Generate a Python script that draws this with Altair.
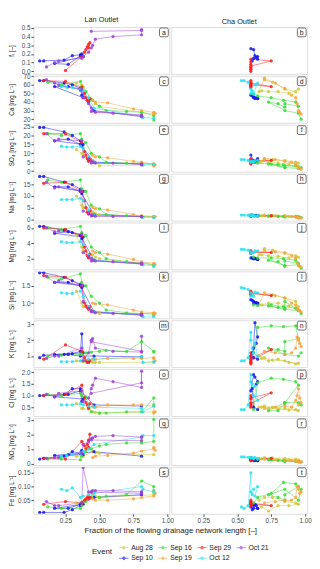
import altair as alt
import pandas as pd

# ---------------- categories / styling lists ----------------
LEGEND_ORDER = ["Aug 28", "Sep 16", "Sep 29", "Oct 21", "Sep 10", "Sep 19", "Oct 12"]
COLORS = ["#CDC935", "#33DD33", "#FF1A1A", "#9E3FD6", "#1515EE", "#F9A23C", "#22E2F0"]

VARS = ["fl", "Ca", "SO4", "Na", "Mg", "Si", "K", "Cl", "NO3", "Fe"]
YTITLES = ["fₗ [–]", "Ca [mg L⁻¹]", "SO₄ [mg L⁻¹]", "Na [mg L⁻¹]", "Mg [mg L⁻¹]",
           "Si [mg L⁻¹]", "K [mg L⁻¹]", "Cl [mg L⁻¹]", "NO₃ [mg L⁻¹]", "Fe [mg L⁻¹]"]
YDOMAINS = [[-0.03, 0.51], [15.8, 70.4], [-0.3, 26], [-0.6, 19.7], [0.6, 6.7],
            [0.56, 1.92], [0.3, 3.25], [0.12, 2.14], [-0.1, 3.1], [0.0, 0.172]]
YTICKS = [[0.0, 0.1, 0.2, 0.3, 0.4, 0.5], [20, 30, 40, 50, 60, 70], [0, 5, 10, 15, 20, 25],
          [0, 5, 10, 15], [2, 4, 6], [1.0, 1.5], [1, 2, 3], [0.5, 1.0, 1.5, 2.0],
          [0, 1, 2, 3], [0.05, 0.10, 0.15]]
YFORMATS = [".1f", "d", "d", "d", "d", ".1f", "d", ".1f", "d", ".2f"]
XTICKS = [0.25, 0.50, 0.75, 1.00]
XTITLE = "Fraction of the flowing drainage network length [–]"
LETTERS = list("abcdefghijklmnopqrst")
SITES = ["Lan Outlet", "Cha Outlet"]

# ---------------- Lan Outlet data (time order per event) ----------------
lan_x = {
    "Aug 28": [0.33, 0.37, 0.38, 0.45, 0.47, 0.50, 0.90],
    "Sep 10": [0.06, 0.09, 0.24, 0.30, 0.36, 0.37, 0.38, 0.17, 0.27, 0.36, 0.46, 0.81],
    "Sep 16": [0.12, 0.22, 0.36, 0.37, 0.40, 0.44, 0.50, 0.55, 0.70, 0.81, 0.90, 0.90],
    "Sep 19": [0.45, 0.47, 0.56, 0.75, 0.81, 0.90, 0.90, 0.91],
    "Sep 29": [0.09, 0.25, 0.37, 0.39, 0.40, 0.41, 0.42, 0.43, 0.42],
    "Oct 12": [0.22, 0.26, 0.30, 0.36, 0.38, 0.42, 0.46, 0.81, 0.82, 0.90],
    "Oct 21": [0.11, 0.17, 0.20, 0.37, 0.38, 0.42, 0.44, 0.45, 0.47, 0.60, 0.81, 0.81, 0.81, 0.44],
}
lan_fl = {
    "Sep 10": [0.12, 0.12, 0.13, 0.18, 0.19, 0.20, 0.17, 0.09, 0.08, 0.18, None, None],
    "Sep 29": [None, 0.01, 0.17, 0.22, 0.25, 0.28, 0.31, 0.33, 0.27],
    "Oct 21": [0.05, 0.10, 0.12, 0.15, 0.17, 0.22, 0.27, 0.30, 0.37, 0.40, 0.42, 0.48, 0.47, 0.46],
}
lan_ca = {
    "Aug 28": [62, 60, 58, 42, 38, 35, 26],
    "Sep 10": [65, 65, 62, 60, 56, 48, 45, 58, 58, 54, 30, 23],
    "Sep 16": [63, 60, 64, 58, 52, 43, 35, 30, 29, 28, 24, 19],
    "Sep 19": [42, 40, 39, 32, 30, 28, 26, 27],
    "Sep 29": [65, 64, 57, 50, 45, 42, 40, 44, 41],
    "Oct 12": [58, 57, 57, 55, 53, 45, 33, 23, 22, 21],
    "Oct 21": [66, 62, 60, 55, 45, 38, 33, 30, 28, 27, 24, 23, 25, 29],
}
lan_so4 = {
    "Aug 28": [12, 10, 9, 6, 5, 3, 3.5],
    "Sep 10": [24.5, 24.5, 22, 20, 17, 14, 15, 17, 18, 15, 5, 4],
    "Sep 16": [21, 20, 21, 18, 16, 10, 8, 5, 4.5, 4.5, 4, 3.5],
    "Sep 19": [9, 8, 7.5, 5.5, 5, 4, 3, 3.5],
    "Sep 29": [21, 21, 16, 11, 9, 7, 6, 6.5, 5.5],
    "Oct 12": [14, 13.5, 13.5, 14, 13, 8, 5, 4, 3.5, 4],
    "Oct 21": [21, 17, 18, 17, 8, 7, 5.5, 5, 4.5, 4.5, 4, 3.5, 4, 4.5],
}
lan_na = {
    "Aug 28": [10, 6, 5, 3, 2.5, 2, 1],
    "Sep 10": [18.5, 18.5, 16, 15, 13, 11, 12, 14, 14, 12, 2, 1.2],
    "Sep 16": [17, 16, 17, 13, 12, 6, 4.5, 2, 1.5, 1.2, 1, 0.8],
    "Sep 19": [5, 4.5, 4, 2, 1.5, 1.2, 1.0, 1.1],
    "Sep 29": [15.5, 16, 12, 8, 5, 3, 2.5, 3.5, 2.2],
    "Oct 12": [8.5, 8.5, 8.5, 9, 8, 4, 2, 1, 0.8, 0.7],
    "Oct 21": [16, 13.5, 14, 12, 3.5, 2.5, 2, 1.5, 1.3, 1.2, 1.2, 1.0, 1.1, 1.4],
}
lan_mg = {
    "Aug 28": [5.0, 3.5, 3.0, 2.5, 2.2, 2.0, 1.2],
    "Sep 10": [6.2, 6.2, 5.7, 5.4, 5.0, 4.6, 4.8, 5.3, 5.5, 5.0, 1.8, 1.3],
    "Sep 16": [6.0, 5.8, 6.2, 5.4, 5.0, 3.5, 2.8, 2.0, 1.6, 1.5, 1.2, 1.0],
    "Sep 19": [3.0, 2.8, 2.6, 1.9, 1.6, 1.4, 1.2, 1.3],
    "Sep 29": [6.0, 5.8, 5.0, 3.5, 3.0, 2.4, 2.2, 2.6, 2.1],
    "Oct 12": [4.2, 4.1, 4.1, 4.2, 3.8, 2.5, 1.8, 1.3, 1.2, 1.1],
    "Oct 21": [6.0, 5.5, 5.6, 5.2, 2.8, 2.3, 2.0, 1.8, 1.7, 1.6, 1.4, 1.3, 1.35, 1.7],
}
lan_si = {
    "Aug 28": [1.35, 1.0, 0.9, 0.8, 0.75, 0.7, 0.7],
    "Sep 10": [1.88, 1.88, 1.75, 1.65, 1.55, 1.45, 1.5, 1.6, 1.6, 1.5, 0.75, 0.65],
    "Sep 16": [1.75, 1.7, 1.85, 1.6, 1.5, 1.2, 1.0, 0.8, 0.72, 0.7, 0.68, 0.65],
    "Sep 19": [1.0, 0.98, 0.95, 0.8, 0.75, 0.72, 0.68, 0.7],
    "Sep 29": [1.8, 1.75, 1.5, 1.0, 0.92, 0.88, 0.85, 0.9, 0.82],
    "Oct 12": [1.3, 1.28, 1.28, 1.35, 1.2, 0.9, 0.75, 0.65, 0.6, 0.6],
    "Oct 21": [1.78, 1.6, 1.65, 1.5, 1.05, 0.85, 0.78, 0.75, 0.72, 0.7, 0.68, 0.65, 0.66, 0.75],
}
lan_k = {
    "Aug 28": [0.7, 0.7, 0.65, 0.6, 0.6, 0.6, 0.6],
    "Sep 10": [0.9, 1.05, 1.1, 1.15, 1.3, 2.4, 1.2, 1.1, 1.1, 1.0, 1.0, 0.95],
    "Sep 16": [1.0, 1.05, 1.1, 1.15, 1.2, 1.25, 1.3, 1.35, 1.3, 1.9, 1.3, 1.25],
    "Sep 19": [0.8, 0.8, 0.85, 0.85, 0.85, 0.9, 0.85, 0.7],
    "Sep 29": [0.8, 1.7, 1.3, 0.9, 0.7, 0.6, 0.65, 0.7, 0.6],
    "Oct 12": [0.65, 0.65, 0.65, 0.7, 0.75, 0.8, 0.8, 0.95, 0.6, 0.65],
    "Oct 21": [0.85, 1.0, 1.0, 1.5, 0.7, 1.2, 2.0, 2.1, 1.5, 1.3, 1.25, 2.25, 1.3, 1.9],
}
lan_cl = {
    "Aug 28": [0.65, 0.45, 0.45, 0.3, 0.28, 0.25, 0.3],
    "Sep 10": [1.0, 1.0, 1.05, 1.3, 1.3, 0.75, 0.85, 0.95, 1.05, 1.2, 0.6, 0.55],
    "Sep 16": [1.05, 1.0, 1.1, 1.0, 0.95, 0.3, 0.25, 0.25, 0.3, 0.3, 0.9, 0.6],
    "Sep 19": [0.55, 0.5, 0.6, 0.6, 0.6, 0.55, 0.25, 0.3],
    "Sep 29": [1.0, 1.05, 1.45, 0.9, 0.7, 0.6, 0.5, 0.65, 0.45],
    "Oct 12": [0.6, 0.6, 0.6, 0.65, 0.6, 0.55, 0.5, 0.45, 0.3, 0.55],
    "Oct 21": [1.05, 0.95, 1.1, 1.2, 0.75, 0.9, 1.3, 1.45, 1.75, 1.6, 1.35, 2.05, 1.55, 1.1],
}
lan_no3 = {
    "Aug 28": [0.5, 0.5, 0.5, 0.8, 0.75, 0.7, 0.6],
    "Sep 10": [0.3, 0.35, 0.5, 0.8, 0.7, 0.9, 0.6, 0.55, 0.6, 0.7, 0.8, 0.5],
    "Sep 16": [0.3, 0.3, 0.25, 0.5, 0.8, 1.0, 1.2, 1.3, 1.4, 1.4, 1.5, 3.0],
    "Sep 19": [0.4, 0.5, 0.55, 0.7, 0.85, 1.0, 1.1, 0.9],
    "Sep 29": [0.35, 0.3, 1.5, 1.2, 1.0, 1.3, 1.6, 2.0, 1.1],
    "Oct 12": [0.5, 0.55, 0.6, 0.7, 0.8, 1.0, 1.3, 1.8, 1.9, 1.9],
    "Oct 21": [0.35, 0.4, 0.4, 0.7, 1.3, 1.5, 1.7, 1.75, 1.85, 1.9, 1.8, 1.8, 1.55, 1.6],
}
lan_fe = {
    "Aug 28": [0.04, 0.04, 0.045, 0.07, 0.065, 0.06, 0.07],
    "Sep 10": [0.005, 0.005, 0.005, 0.015, 0.03, 0.04, 0.035, 0.02, 0.02, 0.035, 0.06, 0.07],
    "Sep 16": [0.025, 0.02, 0.02, 0.03, 0.045, 0.06, 0.06, 0.065, 0.07, 0.12, 0.1, 0.085],
    "Sep 19": [0.055, 0.05, 0.05, 0.055, 0.06, 0.065, 0.08, 0.075],
    "Sep 29": [0.035, 0.045, 0.04, 0.05, 0.055, 0.06, 0.065, 0.06, 0.055],
    "Oct 12": [0.09, 0.085, 0.095, 0.06, 0.065, 0.07, 0.075, 0.1, 0.09, 0.08],
    "Oct 21": [0.045, 0.03, 0.03, 0.04, 0.17, 0.08, 0.08, 0.085, 0.085, 0.085, 0.08, 0.08, 0.075, 0.08],
}

# ---------------- Cha Outlet data ----------------
cha_x = {
    "Aug 28": [0.66, 0.70, 0.76, 0.85, 0.93, 0.95, 0.88, 0.80, 0.73, 0.68],
    "Sep 10": [0.60, 0.62, 0.63, 0.65, 0.64, 0.61, 0.62, 0.65],
    "Sep 16": [0.62, 0.65, 0.75, 0.84, 0.93, 0.95, 0.85, 0.85, 0.80, 0.73, 0.85, 0.95, 0.97],
    "Sep 19": [0.70, 0.78, 0.85, 0.90, 0.93, 0.94, 0.95, 0.96, 0.97, 0.95],
    "Sep 29": [0.60, 0.60, 0.60, 0.60, 0.60, 0.60, 0.75, 0.60, 0.60],
    "Oct 12": [0.53, 0.55, 0.58, 0.60, 0.60, 0.61, 0.62, 0.65, 0.63],
}
cha_fl = {
    "Sep 10": [0.26, 0.25, 0.18, 0.17, 0.16, 0.12, 0.15, 0.14],
    "Sep 29": [0.0, 0.02, 0.05, 0.08, 0.11, 0.14, 0.12, 0.06, 0.03],
}
cha_ca = {
    "Aug 28": [52, 68, 63, 55, 52, 55, 50, 52, 52, 53],
    "Sep 10": [48, 45, 44, 44, 45, 47, 46, 44],
    "Sep 16": [49, 47, 45, 42, 40, 35, 38, 34, 38, 40, 30, 27, 20],
    "Sep 19": [66, 62, 56, 48, 45, 38, 30, 28, 26, 29],
    "Sep 29": [57, 59, 61, 63, 65, 62, 58, 60, 58],
    "Oct 12": [65, 65, 63, 55, 50, 53, 50, 62, 60],
}
cha_so4 = {
    "Aug 28": [5, 7, 6.5, 6, 5, 4.5, 4, 4.5, 5, 5.5],
    "Sep 10": [9, 6, 5, 7, 6, 5, 5.5, 6],
    "Sep 16": [5, 4.5, 4, 3.5, 3, 2.5, 3, 2, 3.5, 4, 2, 1.5, 2],
    "Sep 19": [7, 6.5, 5.5, 5, 4, 3, 2, 1.5, 1, 1.5],
    "Sep 29": [4, 5, 6, 6.5, 7, 6, 6, 5, 4.5],
    "Oct 12": [6.5, 6.5, 6, 5.5, 5, 5.5, 5, 6, 6],
}
cha_na = {
    "Aug 28": [1.6, 1.7, 1.6, 1.5, 1.3, 1.2, 1.2, 1.3, 1.4, 1.5],
    "Sep 10": [1.8, 1.6, 1.5, 1.5, 1.6, 1.7, 1.5, 1.4],
    "Sep 16": [1.4, 1.3, 1.3, 1.2, 1.1, 1.0, 1.2, 1.0, 1.2, 1.3, 1.0, 0.9, 0.8],
    "Sep 19": [1.5, 1.4, 1.3, 1.2, 1.0, 0.8, 0.7, 0.6, 0.5, 0.6],
    "Sep 29": [1.4, 1.5, 1.5, 1.6, 1.6, 1.5, 1.5, 1.4, 1.4],
    "Oct 12": [1.8, 1.8, 1.7, 1.5, 1.5, 1.6, 1.4, 1.5, 1.5],
}
cha_mg = {
    "Aug 28": [2.5, 3.3, 3.1, 2.8, 2.4, 2.2, 2.1, 2.3, 2.4, 2.5],
    "Sep 10": [2.1, 2.0, 2.0, 1.9, 2.0, 2.1, 2.0, 1.9],
    "Sep 16": [2.2, 2.1, 2.1, 2.0, 1.8, 1.4, 1.7, 1.0, 1.6, 1.8, 1.1, 1.2, 0.7],
    "Sep 19": [3.0, 2.9, 2.7, 2.4, 2.1, 1.5, 1.2, 1.0, 0.9, 1.1],
    "Sep 29": [2.7, 2.8, 2.9, 3.0, 3.0, 2.9, 2.8, 2.8, 2.7],
    "Oct 12": [3.2, 3.2, 3.1, 2.9, 2.7, 2.8, 2.8, 3.0, 3.0],
}
cha_si = {
    "Aug 28": [0.95, 1.3, 1.25, 1.15, 1.05, 0.9, 0.92, 1.0, 1.0, 0.95],
    "Sep 10": [1.1, 1.05, 1.0, 1.0, 1.02, 1.08, 1.0, 0.98],
    "Sep 16": [0.95, 0.93, 0.95, 0.9, 0.85, 0.8, 1.05, 0.85, 0.88, 0.92, 0.82, 0.78, 0.7],
    "Sep 19": [1.25, 1.22, 1.15, 1.0, 0.95, 0.85, 0.8, 0.78, 0.75, 0.8],
    "Sep 29": [1.25, 1.28, 1.3, 1.35, 1.32, 1.3, 1.22, 1.28, 1.25],
    "Oct 12": [1.45, 1.43, 1.4, 1.3, 1.2, 1.25, 1.2, 1.3, 1.32],
}
cha_k = {
    "Aug 28": [1.0, 0.9, 0.75, 0.7, 0.5, 0.55, 0.6, 0.8, 0.7, 0.85],
    "Sep 10": [1.0, 1.5, 3.1, 2.2, 1.8, 1.2, 0.9, 0.8],
    "Sep 16": [1.2, 2.8, 2.9, 2.85, 2.9, 2.1, 1.9, 1.3, 1.4, 1.5, 1.1, 1.0, 1.2],
    "Sep 19": [1.3, 1.2, 1.1, 1.2, 1.5, 2.2, 2.0, 1.8, 1.6, 2.1],
    "Sep 29": [0.5, 0.6, 0.8, 1.0, 1.2, 0.9, 1.4, 0.7, 0.6],
    "Oct 12": [0.7, 0.7, 0.9, 2.5, 2.0, 1.5, 1.2, 1.0, 1.8],
}
cha_cl = {
    "Aug 28": [0.5, 0.55, 0.5, 0.45, 0.4, 0.35, 0.38, 0.42, 0.45, 0.5],
    "Sep 10": [1.2, 1.9, 1.8, 1.6, 1.5, 1.3, 0.5, 0.4],
    "Sep 16": [0.4, 1.55, 1.75, 1.7, 1.6, 1.45, 0.7, 0.65, 0.35, 0.35, 0.7, 0.7, 0.6],
    "Sep 19": [0.45, 0.5, 0.55, 0.5, 0.8, 1.0, 1.3, 0.9, 0.7, 0.6],
    "Sep 29": [0.5, 0.6, 0.7, 0.85, 1.0, 0.9, 1.12, 0.65, 0.55],
    "Oct 12": [0.4, 0.4, 0.6, 1.9, 1.6, 1.5, 1.0, 0.8, 1.4],
}
cha_no3 = {
    "Aug 28": [0.35, 0.4, 0.38, 0.35, 0.3, 0.25, 0.25, 0.28, 0.3, 0.32],
    "Sep 10": [0.3, 0.25, 0.2, 0.2, 0.25, 0.3, 0.2, 0.2],
    "Sep 16": [0.3, 0.28, 0.25, 0.2, 0.15, 0.15, 0.2, 0.15, 0.2, 0.25, 0.15, 0.12, 0.1],
    "Sep 19": [0.3, 0.25, 0.22, 0.2, 0.18, 0.15, 0.12, 0.1, 0.1, 0.12],
    "Sep 29": [0.2, 0.25, 0.3, 0.35, 0.4, 0.3, 0.35, 0.25, 0.2],
    "Oct 12": [0.45, 0.45, 0.42, 0.4, 0.38, 0.4, 0.35, 0.35, 0.4],
}
cha_fe = {
    "Aug 28": [0.05, 0.06, 0.06, 0.045, 0.04, 0.035, 0.03, 0.03, 0.01, 0.025],
    "Sep 10": [0.025, 0.03, 0.035, 0.02, 0.03, 0.015, 0.02, 0.02],
    "Sep 16": [0.04, 0.06, 0.075, 0.115, 0.11, 0.1, 0.07, 0.05, 0.06, 0.07, 0.09, 0.05, 0.09],
    "Sep 19": [0.04, 0.045, 0.05, 0.05, 0.06, 0.1, 0.09, 0.075, 0.08, 0.1],
    "Sep 29": [0.03, 0.035, 0.04, 0.045, 0.05, 0.04, 0.03, 0.035, 0.03],
    "Oct 12": [0.025, 0.02, 0.03, 0.15, 0.08, 0.07, 0.09, 0.1, 0.065],
}

LAN_VARS = [lan_fl, lan_ca, lan_so4, lan_na, lan_mg, lan_si, lan_k, lan_cl, lan_no3, lan_fe]
CHA_VARS = [cha_fl, cha_ca, cha_so4, cha_na, cha_mg, cha_si, cha_k, cha_cl, cha_no3, cha_fe]

# ---------------- long table ----------------
records = []
for site, xs, vlist in [("Lan Outlet", lan_x, LAN_VARS), ("Cha Outlet", cha_x, CHA_VARS)]:
    for var, d in zip(VARS, vlist):
        for ev, vals in d.items():
            for i, (xv, yv) in enumerate(zip(xs[ev], vals)):
                if yv is None:
                    continue
                records.append({"site": site, "var": var, "Event": ev, "idx": i,
                                "x": xv, "y": yv})
df = pd.DataFrame(records)

W, H = 139, 48
FONT = "Liberation Sans"
sym_path = "M-1,0L1,0M0.3,0A0.3,0.3,0,1,1,-0.3,0A0.3,0.3,0,1,1,0.3,0"
color = alt.Color("Event:N",
                  scale=alt.Scale(domain=LEGEND_ORDER, range=COLORS),
                  legend=alt.Legend(symbolType=sym_path, symbolSize=90,
                                    symbolStrokeWidth=0.9, columns=4,
                                    direction="horizontal", orient="none",
                                    legendX=60, legendY=527, gridAlign="all",
                                    titleOrient="left", title="Event"))


def panel(row, col):
    var = VARS[row]
    site = SITES[col]
    sub = df[(df["var"] == var) & (df["site"] == site)]
    last = row == len(VARS) - 1
    if last:
        xaxis = alt.Axis(values=XTICKS, format=".2f", grid=False,
                         domain=False, tickSize=2.5, labelFontSize=6.5,
                         labelColor="#4d4d4d", labelPadding=1, tickColor="#4d4d4d",
                         title=XTITLE if col == 0 else None,
                         titleFontSize=8, titleFontWeight="normal", titleColor="#1a1a1a",
                         titleX=W + 1, titleY=13, titleAlign="center", titleBaseline="top")
    else:
        xaxis = None
    if col == 0:
        yaxis = alt.Axis(values=YTICKS[row], format=YFORMATS[row], title=YTITLES[row],
                         grid=False, domain=False, tickSize=2.5, labelFontSize=6.5,
                         labelColor="#4d4d4d", labelPadding=1, tickColor="#4d4d4d",
                         titleFontSize=6.5, titleFontWeight="normal", titleColor="#1a1a1a",
                         titleX=-19, titleY=H / 2, titleBaseline="bottom",
                         titleAlign="center")
    else:
        yaxis = None
    xenc = alt.X("x:Q", scale=alt.Scale(domain=[0.014, 1.014], nice=False, zero=False),
                 axis=xaxis)
    yenc = alt.Y("y:Q", scale=alt.Scale(domain=YDOMAINS[row], nice=False, zero=False),
                 axis=yaxis)
    base = alt.Chart(sub)
    lines = base.mark_line(strokeWidth=0.8, opacity=0.65, clip=True).encode(
        x=xenc, y=yenc, color=color, order="idx:Q")
    pts = base.mark_circle(size=11, opacity=0.85, clip=True).encode(
        x=xenc, y=yenc, color=color)
    lab = pd.DataFrame({"t": [LETTERS[row * 2 + col]]})
    box = alt.Chart(lab).mark_rect(fill="white", stroke="#333333", strokeWidth=0.7,
                                   cornerRadius=1.5).encode(
        x=alt.value(W - 10), x2=alt.value(W - 1), y=alt.value(1), y2=alt.value(10))
    txt = alt.Chart(lab).mark_text(fontSize=7, font=FONT, color="#1a1a1a",
                                   align="center", baseline="middle").encode(
        text="t:N", x=alt.value(W - 5.5), y=alt.value(5.8))
    ch = alt.layer(lines, pts, box, txt).properties(width=W, height=H)
    if row == 0:
        ch = ch.properties(title=alt.TitleParams(site, fontSize=7.5, fontWeight="normal",
                                                 font=FONT, color="#1a1a1a", offset=2,
                                                 frame="group"))
    return ch


panels = [panel(r, c) for r in range(len(VARS)) for c in range(2)]

chart = alt.concat(*panels, columns=2, spacing=2, bounds="flush").configure_view(
    stroke="#3a3a3a", strokeWidth=1.6
).configure(font=FONT, padding=0).configure_legend(
    labelFontSize=7, titleFontSize=8, titleFontWeight="normal", labelColor="#1a1a1a",
    titleColor="#1a1a1a", rowPadding=2, columnPadding=2, titlePadding=6, labelOffset=2,
    symbolLimit=0, labelLimit=40
)

chart.save("out.html", embed_options={"renderer": "svg", "actions": False})
